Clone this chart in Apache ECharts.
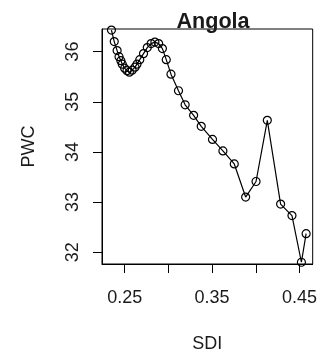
<!DOCTYPE html>
<html>
<head>
<meta charset="utf-8">
<script src="https://cdn.jsdelivr.net/npm/echarts@6/dist/echarts.min.js"></script>
<style>
html,body{margin:0;padding:0;background:#fff;}
#chart{width:320px;height:358px;}
</style>
</head>
<body>
<div id="chart"></div>
<script>
// Data
var title = 'Angola';
var xName = 'SDI';
var yName = 'PWC';
var sdi = [0.2349,0.2381,0.2414,0.2436,0.2457,0.2473,0.2500,0.2527,0.2554,0.2586,
           0.2619,0.2641,0.2673,0.2716,0.2759,0.2803,0.2846,0.2889,0.2932,0.2976,
           0.3030,0.3116,0.3192,0.3289,0.3376,0.3505,0.3624,0.3754,0.3884,0.4003,
           0.4132,0.4284,0.4414,0.4522,0.4576];
var pwc = [36.43,36.20,36.02,35.90,35.82,35.75,35.67,35.62,35.59,35.63,
           35.69,35.75,35.84,35.96,36.08,36.16,36.19,36.16,36.06,35.84,
           35.55,35.22,34.94,34.73,34.51,34.25,34.02,33.76,33.10,33.41,
           34.63,32.96,32.73,31.80,32.37];
var xTicks = [0.25,0.30,0.35,0.40,0.45];
var xLabels = [0.25,0.35,0.45];
var yTicks = [32,33,34,35,36];

var points = sdi.map(function(x,i){return [x,pwc[i]];});
var FONT = 'Liberation Sans, Arial, sans-serif';
var TXT = '#1a1a1a';

var chart = echarts.init(document.getElementById('chart'), null, {renderer:'canvas'});
chart.setOption({
  animation:false,
  backgroundColor:'#fff',
  grid:{left:102, top:29, width:223, height:239, show:true, borderColor:'#000', borderWidth:1, backgroundColor:'transparent'},
  xAxis:{
    type:'value', min:0.2241, max:0.4651,
    name:xName, nameLocation:'middle', nameGap:71,
    nameTextStyle:{fontFamily:FONT, fontSize:18, color:TXT},
    axisLine:{show:true, lineStyle:{color:'#000', width:1}},
    axisTick:{show:true, inside:false, length:9, customValues:xTicks, lineStyle:{color:'#000'}},
    axisLabel:{customValues:xLabels, margin:25, fontFamily:FONT, fontSize:18, color:TXT,
      formatter:function(v){return v.toFixed(2);}},
    splitLine:{show:false}
  },
  yAxis:{
    type:'value', min:31.765, max:36.451,
    name:yName, nameLocation:'middle', nameGap:64, nameRotate:90,
    nameTextStyle:{fontFamily:FONT, fontSize:18, color:TXT},
    axisLine:{show:true, lineStyle:{color:'#000', width:1}},
    axisTick:{show:true, inside:false, length:9, customValues:yTicks, lineStyle:{color:'#000'}},
    axisLabel:{customValues:yTicks, rotate:90, margin:20, fontFamily:FONT, fontSize:18, color:TXT},
    splitLine:{show:false}
  },
  graphic:[{
    type:'text', x:213, y:22,
    style:{text:title, fontFamily:FONT, fontSize:21.6, fontWeight:'bold', fill:TXT,
      textAlign:'center', textVerticalAlign:'middle'}
  }],
  series:[{
    type:'line', data:points, clip:true,
    symbol:'circle', symbolSize:8, showAllSymbol:true,
    lineStyle:{color:'#000', width:1.2},
    itemStyle:{color:'rgba(0,0,0,0)', borderColor:'#000', borderWidth:1.2}
  }]
});
</script>
</body>
</html>
